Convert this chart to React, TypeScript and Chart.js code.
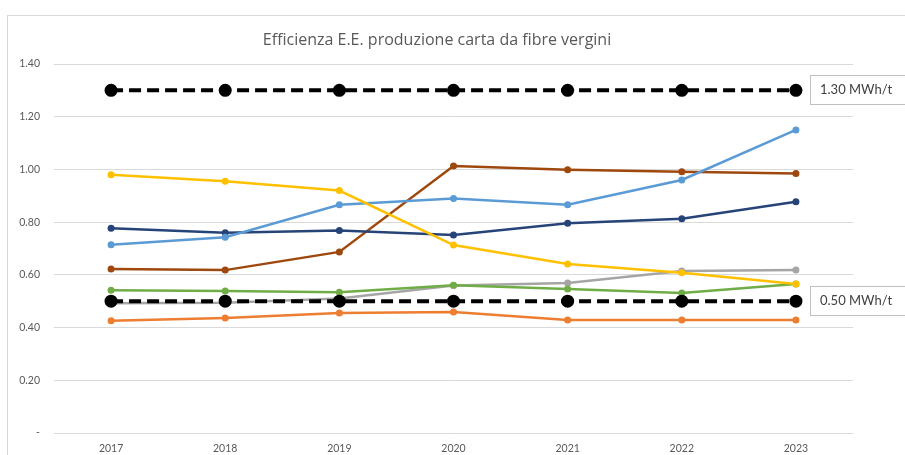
import React, { useEffect, useRef } from "react";
import { Chart, registerables } from "chart.js";

Chart.register(...registerables);

const TITLE = "Efficienza E.E. produzione carta da fibre vergini";
const years = ["2017", "2018", "2019", "2020", "2021", "2022", "2023"];
const yTicks = [0, 0.2, 0.4, 0.6, 0.8, 1.0, 1.2, 1.4];

const seriesYellow = [0.98, 0.955, 0.92, 0.713, 0.641, 0.608, 0.565];
const seriesLightBlue = [0.714, 0.743, 0.866, 0.89, 0.866, 0.96, 1.15];
const seriesDarkBlue = [0.777, 0.76, 0.768, 0.751, 0.796, 0.813, 0.877];
const seriesBrown = [0.622, 0.618, 0.687, 1.013, 0.999, 0.991, 0.985];
const seriesGreen = [0.542, 0.539, 0.534, 0.561, 0.546, 0.531, 0.565];
const seriesGray = [0.492, 0.494, 0.51, 0.56, 0.569, 0.615, 0.618];
const seriesOrange = [0.426, 0.436, 0.455, 0.459, 0.429, 0.429, 0.429];
const limitHigh = [1.3, 1.3, 1.3, 1.3, 1.3, 1.3, 1.3];
const limitLow = [0.5, 0.5, 0.5, 0.5, 0.5, 0.5, 0.5];
const limitHighLabel = "1.30 MWh/t";
const limitLowLabel = "0.50 MWh/t";

const FONT = "Lato, 'Open Sans', sans-serif";
const TITLE_FONT = "'Open Sans', Lato, sans-serif";

const decorPlugin = {
  id: "decor",
  beforeDraw(chart: any) {
    const ctx = chart.ctx;
    ctx.save();
    ctx.fillStyle = "#ffffff";
    ctx.fillRect(0, 0, chart.width, chart.height);
    ctx.strokeStyle = "#d9d9d9";
    ctx.lineWidth = 1;
    ctx.strokeRect(7.5, 15.5, chart.width + 20, chart.height + 20);
    ctx.fillStyle = "#595959";
    ctx.font = `16px ${TITLE_FONT}`;
    ctx.textAlign = "center";
    ctx.textBaseline = "middle";
    ctx.fillText(TITLE, 437, 40);
    ctx.restore();
  },
  afterDraw(chart: any) {
    const ctx = chart.ctx;
    const y = chart.scales.y;
    const boxes = [
      { v: limitHigh[limitHigh.length - 1], t: limitHighLabel },
      { v: limitLow[limitLow.length - 1], t: limitLowLabel },
    ];
    ctx.save();
    for (const b of boxes) {
      const py = y.getPixelForValue(b.v);
      const top = Math.round(py - 15) + 0.5;
      ctx.fillStyle = "#ffffff";
      ctx.fillRect(810.5, top, 120, 29);
      ctx.strokeStyle = "#bfbfbf";
      ctx.lineWidth = 1;
      ctx.strokeRect(810.5, top, 120, 29);
      ctx.fillStyle = "#404040";
      ctx.font = `13px ${FONT}`;
      ctx.textAlign = "left";
      ctx.textBaseline = "middle";
      ctx.fillText(b.t, 820, top + 14.5);
    }
    ctx.restore();
  },
};

function lineDs(label: string, data: number[], color: string, order: number) {
  return {
    label,
    data,
    borderColor: color,
    backgroundColor: color,
    borderWidth: 2.5,
    pointRadius: 3.5,
    pointHoverRadius: 3.5,
    pointBorderWidth: 0,
    pointBackgroundColor: color,
    tension: 0,
    order,
  };
}

function limitDs(label: string, data: number[], order: number) {
  return {
    label,
    data,
    borderColor: "#000000",
    backgroundColor: "#000000",
    borderWidth: 4,
    borderDash: [12, 6],
    pointRadius: 6.5,
    pointHoverRadius: 6.5,
    pointBorderWidth: 0,
    pointBackgroundColor: "#000000",
    tension: 0,
    order,
  };
}

export default function App() {
  const ref = useRef<HTMLCanvasElement | null>(null);
  useEffect(() => {
    if (!ref.current) return;
    const chart = new Chart(ref.current, {
      type: "line",
      data: {
        labels: years,
        datasets: [
          limitDs("Limite alto", limitHigh, 0),
          limitDs("Limite basso", limitLow, 0),
          lineDs("Serie 1", seriesYellow, "#FFC000", 1),
          lineDs("Serie 2", seriesLightBlue, "#5B9BD5", 1),
          lineDs("Serie 3", seriesDarkBlue, "#264478", 1),
          lineDs("Serie 4", seriesBrown, "#9E480E", 1),
          lineDs("Serie 5", seriesGreen, "#70AD47", 1),
          lineDs("Serie 6", seriesGray, "#A5A5A5", 2),
          lineDs("Serie 7", seriesOrange, "#ED7D31", 1),
        ] as any,
      },
      options: {
        animation: false,
        responsive: false,
        maintainAspectRatio: false,
        layout: { padding: { left: 0, right: 52, top: 64, bottom: 0 } },
        plugins: {
          legend: { display: false },
          title: { display: false },
          tooltip: { enabled: false },
        },
        scales: {
          x: {
            type: "category",
            offset: true,
            grid: { display: false, drawTicks: false },
            border: { display: false },
            ticks: {
              color: "#595959",
              font: { family: FONT, size: 10.5 },
              padding: 9,
              maxRotation: 0,
            },
            afterFit(scale: any) {
              scale.height = 22;
            },
          },
          y: {
            min: 0,
            max: 1.4,
            afterBuildTicks(scale: any) {
              scale.ticks = yTicks.map((v) => ({ value: v }));
            },
            grid: { color: "#d9d9d9", lineWidth: 1, drawTicks: false },
            border: { display: false },
            ticks: {
              color: "#595959",
              font: { family: FONT, size: 10.5 },
              padding: 14,
              callback: (v: any) => (Number(v) === 0 ? "-" : Number(v).toFixed(2)),
            },
            afterFit(scale: any) {
              scale.width = 54;
            },
          },
        },
      },
      plugins: [decorPlugin],
    });
    return () => chart.destroy();
  }, []);
  return (
    <div style={{ position: "fixed", left: 0, top: 0, width: 905, height: 455 }}>
      <canvas ref={ref} width={905} height={455} style={{ width: 905, height: 455, display: "block" }} />
    </div>
  );
}
